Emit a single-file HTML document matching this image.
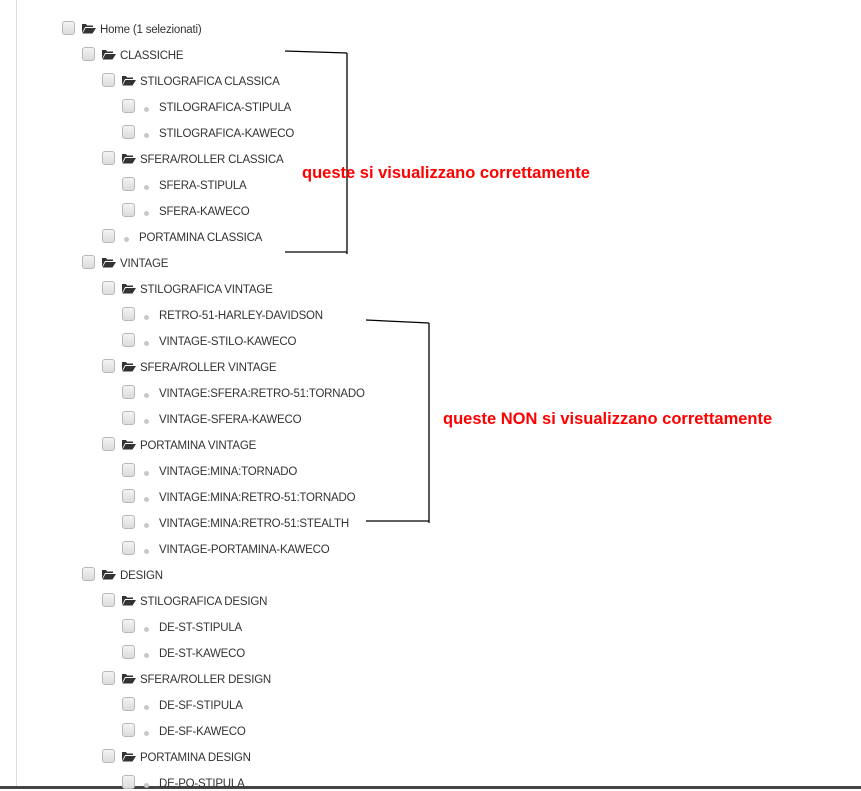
<!DOCTYPE html>
<html><head><meta charset="utf-8">
<style>
body{margin:0;width:861px;height:789px;background:#fff;position:relative;overflow:hidden;font-family:"Liberation Sans",sans-serif}
.cb{position:absolute;width:11px;height:12px;border:1px solid #b8b8b8;border-radius:3px;background:linear-gradient(#f4f4f4,#dcdcdc)}
.t{position:absolute;font-size:11.5px;color:#333;letter-spacing:-0.2px;white-space:nowrap;line-height:14px}
.dot{position:absolute;width:5px;height:5px;border-radius:50%;background:#c8c8c8}
.fo{position:absolute}
.red{position:absolute;color:#f00;font-weight:bold;font-size:16.5px;white-space:nowrap}
</style></head><body>
<div style="position:absolute;left:16px;top:0;width:1px;height:786px;background:#ddd"></div>
<div style="position:absolute;left:0;top:786px;width:861px;height:3px;background:#444"></div>
<div id="tree"></div>
<svg width="861" height="789" style="position:absolute;left:0;top:0">
<g stroke="#000" stroke-width="1.3" fill="none">
<path d="M285 51 L347 53 M347 53 L347 254 M285 252 L347 252"/>
<path d="M366 320 L429 323 M429 323 L429 523 M366 521 L429 521"/>
</g></svg>
<div class="red" style="left:302px;top:164px">queste si visualizzano correttamente</div>
<div class="red" style="left:443px;top:410px">queste NON si visualizzano correttamente</div>
<script>
var rows=[[0,1,"Home (1 selezionati)"],[1,1,"CLASSICHE"],[2,1,"STILOGRAFICA CLASSICA"],[3,0,"STILOGRAFICA-STIPULA"],[3,0,"STILOGRAFICA-KAWECO"],[2,1,"SFERA/ROLLER CLASSICA"],[3,0,"SFERA-STIPULA"],[3,0,"SFERA-KAWECO"],[2,0,"PORTAMINA CLASSICA"],[1,1,"VINTAGE"],[2,1,"STILOGRAFICA VINTAGE"],[3,0,"RETRO-51-HARLEY-DAVIDSON"],[3,0,"VINTAGE-STILO-KAWECO"],[2,1,"SFERA/ROLLER VINTAGE"],[3,0,"VINTAGE:SFERA:RETRO-51:TORNADO"],[3,0,"VINTAGE-SFERA-KAWECO"],[2,1,"PORTAMINA VINTAGE"],[3,0,"VINTAGE:MINA:TORNADO"],[3,0,"VINTAGE:MINA:RETRO-51:TORNADO"],[3,0,"VINTAGE:MINA:RETRO-51:STEALTH"],[3,0,"VINTAGE-PORTAMINA-KAWECO"],[1,1,"DESIGN"],[2,1,"STILOGRAFICA DESIGN"],[3,0,"DE-ST-STIPULA"],[3,0,"DE-ST-KAWECO"],[2,1,"SFERA/ROLLER DESIGN"],[3,0,"DE-SF-STIPULA"],[3,0,"DE-SF-KAWECO"],[2,1,"PORTAMINA DESIGN"],[3,0,"DE-PO-STIPULA"]];
var h="";
rows.forEach(function(r,i){
 var y=30+i*26, x=62+r[0]*20;
 h+='<div class="cb" style="left:'+x+'px;top:'+(y-9)+'px"></div>';
 if(r[1]){
  h+='<svg class="fo" width="14" height="11" style="left:'+(x+20)+'px;top:'+(y-7)+'px"><path d="M0 1 L4 1 L5 2.5 L11 2.5 L11 4 L3 4 L0 10 Z" fill="#333"/><path d="M3.5 5 L14 5 L10.5 10.5 L0.5 10.5 Z" fill="#333"/></svg>';
  h+='<div class="t" style="left:'+(x+38)+'px;top:'+(y-7)+'px">'+r[2]+'</div>';
 } else {
  h+='<div class="dot" style="left:'+(x+22)+'px;top:'+(y-1)+'px"></div>';
  h+='<div class="t" style="left:'+(x+37)+'px;top:'+(y-7)+'px">'+r[2]+'</div>';
 }
});
document.getElementById("tree").innerHTML=h;
</script>
</body></html>
